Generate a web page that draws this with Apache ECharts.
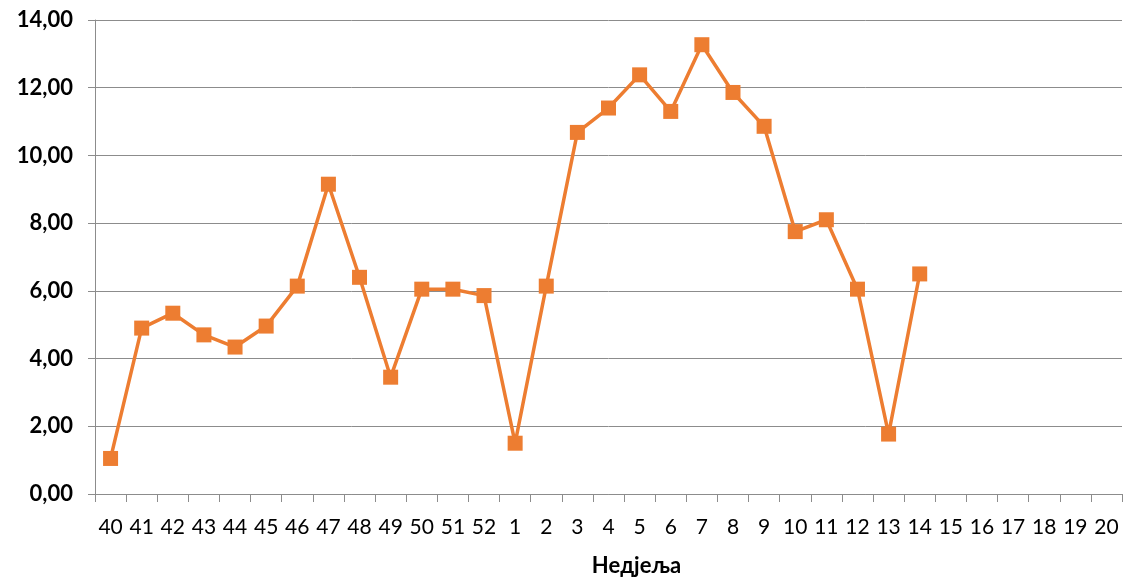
<!DOCTYPE html>
<html>
<head>
<meta charset="utf-8">
<script src="https://cdn.jsdelivr.net/npm/echarts@6/dist/echarts.min.js"></script>
<style>
  html, body { margin: 0; padding: 0; background: #fff; }
  #chart { width: 1129px; height: 583px; }
</style>
</head>
<body>
<div id="chart"></div>
<script>
// недјеље (sezona 40 - 20)
var weeks = ['40','41','42','43','44','45','46','47','48','49','50','51','52',
  '1','2','3','4','5','6','7','8','9','10','11','12','13','14','15','16','17','18','19','20']
var values = [1.05, 4.9, 5.34, 4.7, 4.34, 4.96, 6.14, 9.15, 6.4, 3.45, 6.05, 6.05, 5.86,
  1.5, 6.14, 10.68, 11.4, 12.38, 11.3, 13.27, 11.86, 10.86, 7.75, 8.1, 6.05, 1.77, 6.5,
  null, null, null, null, null, null]
var yTicks = { min: 0, max: 14, interval: 2 }

var myChart = echarts.init(document.getElementById('chart'))
myChart.setOption({
  animation: false,
  grid: { left: 95, right: 7, top: 20, bottom: 89, outerBoundsMode: 'none', containLabel: false },
  xAxis: {
    type: 'category',
    data: weeks,
    boundaryGap: true,
    name: 'Недјеља',
    nameLocation: 'middle',
    nameGap: 61,
    nameTextStyle: { fontFamily: 'Lato', fontWeight: 'bold', fontSize: 22, color: '#000', padding: [0, 0, 0, 56] },
    axisLine: { lineStyle: { color: '#8c8c8c', width: 1 } },
    axisTick: { show: true, alignWithLabel: false, length: 8, lineStyle: { color: '#8c8c8c' } },
    axisLabel: { fontFamily: 'Lato', fontSize: 21, color: '#000', margin: 23, interval: 0 },
    splitLine: { show: false }
  },
  yAxis: {
    type: 'value',
    min: yTicks.min,
    max: yTicks.max,
    interval: yTicks.interval,
    axisLine: { show: true, lineStyle: { color: '#8c8c8c', width: 1 } },
    axisTick: { show: true, length: 7, lineStyle: { color: '#8c8c8c' } },
    axisLabel: {
      fontFamily: 'Lato', fontWeight: 'bold', fontSize: 22, color: '#000', margin: 22,
      formatter: function (v) { return v.toFixed(2).replace('.', ',') }
    },
    splitLine: { show: true, lineStyle: { color: '#8c8c8c', width: 1 } }
  },
  series: [{
    type: 'line',
    data: values,
    symbol: 'rect',
    symbolSize: 15,
    connectNulls: false,
    lineStyle: { color: '#ED7D31', width: 3.5 },
    itemStyle: { color: '#ED7D31' }
  }]
})
</script>
</body>
</html>
